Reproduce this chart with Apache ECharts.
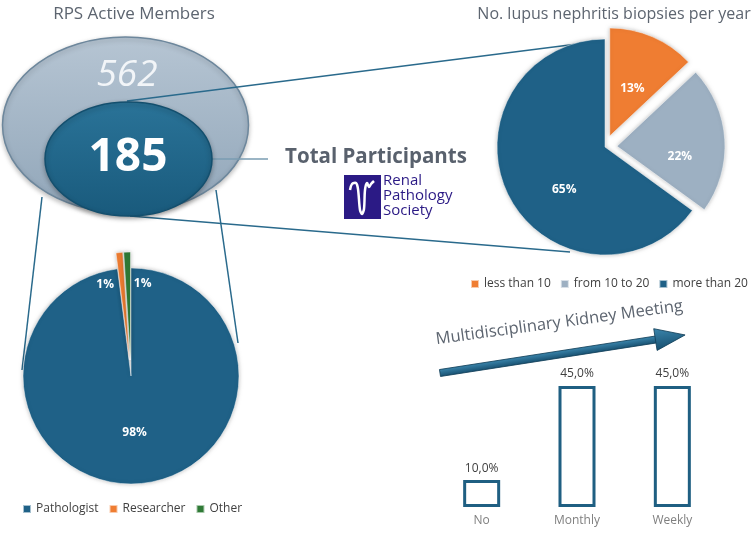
<!DOCTYPE html>
<html>
<head>
<meta charset="utf-8">
<script src="https://cdn.jsdelivr.net/npm/echarts@6/dist/echarts.min.js"></script>
<style>html,body{margin:0;padding:0;background:#fff}#main{width:756px;height:533px}</style>
</head>
<body>
<div id="main"></div>
<script>
// data
var activeMembers = 562;
var totalParticipants = 185;
var roleNames = ['Pathologist', 'Researcher', 'Other'];
var roleValues = [98, 1, 1];
var roleColors = ['#1f6187', '#ef7d32', '#2f7a36'];
var biopsyNames = ['less than 10', 'from 10 to 20', 'more than 20'];
var biopsyValues = [13, 22, 65];
var biopsyColors = ['#ef7d32', '#9db0c2', '#1f6187'];
var meetingCats = ['No', 'Monthly', 'Weekly'];
var meetingValues = [10, 45, 45];

var FONT = 'Open Sans';
var grey = '#5d6570';
var lineCol = '#2a6a8c';

var myChart = echarts.init(document.getElementById('main'));

function lg(a, b) {
    return new echarts.graphic.LinearGradient(0, 0, 0, 1, [{ offset: 0, color: a }, { offset: 1, color: b }]);
}

function pieData(names, values, colors, sel) {
    return names.map(function (n, i) {
        return { name: n, value: values[i], itemStyle: { color: colors[i] }, selected: sel[i] };
    });
}

var pctLabel = function (p) { return Math.round(p.percent) + '%'; };

myChart.setOption({
    animation: false,
    title: [
        { text: 'RPS Active Members', left: 129, top: 1, textAlign: 'center',
          textStyle: { fontFamily: FONT, fontSize: 17, fontWeight: 'normal', color: grey } },
        { text: 'No. lupus nephritis biopsies per year', left: 609, top: 1, textAlign: 'center',
          textStyle: { fontFamily: FONT, fontSize: 16, fontWeight: 'normal', color: grey } }
    ],
    legend: [
        { data: roleNames, left: 22, top: 503, padding: 0, width: 300, icon: 'rect', itemWidth: 8, itemHeight: 8, itemGap: 10,
          textStyle: { fontFamily: FONT, fontSize: 12, color: '#404040' } },
        { data: biopsyNames, left: 470, top: 278, padding: 0, width: 286, icon: 'rect', itemWidth: 8, itemHeight: 8, itemGap: 9,
          textStyle: { fontFamily: FONT, fontSize: 12, color: '#404040' } }
    ],
    grid: { left: 434, right: 36, top: 372.5, bottom: 26 },
    xAxis: {
        type: 'category', data: meetingCats,
        axisLine: { show: false }, axisTick: { show: false },
        axisLabel: { color: '#7f7f7f', fontFamily: FONT, fontSize: 12, margin: 8 }
    },
    yAxis: { type: 'value', min: 0, max: 50, show: false },
    graphic: [
        { type: 'ellipse', z: 0, shape: { cx: 125.5, cy: 125, rx: 123, ry: 88 },
          style: { fill: lg('#b6c5d3', '#91a6b9'), stroke: '#6d879c', lineWidth: 1.5,
                   shadowBlur: 5, shadowColor: 'rgba(0,0,0,0.25)', shadowOffsetY: 2 } },
        { type: 'line', z: 1, shape: { x1: 127, y1: 101, x2: 601, y2: 41 }, style: { stroke: lineCol, lineWidth: 1.5 } },
        { type: 'line', z: 1, shape: { x1: 130, y1: 216, x2: 570, y2: 252 }, style: { stroke: lineCol, lineWidth: 1.5 } },
        { type: 'line', z: 1, shape: { x1: 42, y1: 197, x2: 22, y2: 370 }, style: { stroke: lineCol, lineWidth: 1.5 } },
        { type: 'line', z: 1, shape: { x1: 216, y1: 190, x2: 238, y2: 343 }, style: { stroke: lineCol, lineWidth: 1.5 } },
        { type: 'line', z: 1, shape: { x1: 210, y1: 159, x2: 268, y2: 159 }, style: { stroke: '#7a9cb2', lineWidth: 1.5 } },
        { type: 'ellipse', z: 3, shape: { cx: 128.5, cy: 159, rx: 83.5, ry: 57 },
          style: { fill: lg('#2a7398', '#195a7c'), stroke: '#134f6e', lineWidth: 1.5,
                   shadowBlur: 5, shadowColor: 'rgba(0,0,0,0.3)', shadowOffsetY: 2 } },
        { type: 'text', z: 4, x: 127, y: 75,
          style: { text: String(activeMembers), fill: '#f2f5f8', fontFamily: FONT, fontSize: 37,
                   fontStyle: 'italic', textAlign: 'center', textVerticalAlign: 'middle' } },
        { type: 'text', z: 4, x: 128, y: 158,
          style: { text: String(totalParticipants), fill: '#ffffff', fontFamily: FONT, fontSize: 46,
                   fontWeight: 'bold', textAlign: 'center', textVerticalAlign: 'middle' } },
        { type: 'text', z: 4, x: 376, y: 157,
          style: { text: 'Total Participants', fill: '#59616d', fontFamily: FONT, fontSize: 20.5,
                   fontWeight: 'bold', textAlign: 'center', textVerticalAlign: 'middle' } },
        // Renal Pathology Society logo
        { type: 'rect', z: 4, shape: { x: 344, y: 175, width: 37, height: 44 }, style: { fill: '#2b1a85' } },
        { type: 'polyline', z: 5, shape: { smooth: 0.3, points: [[350, 190], [352, 184], [356, 183], [358, 189],
            [360, 210], [362, 214], [364, 209], [365, 190], [367, 183], [369, 187], [371, 184], [374, 181]] },
          style: { stroke: '#fff', lineWidth: 2.5, fill: null } },
        { type: 'text', z: 4, x: 383, y: 173,
          style: { text: 'Renal\nPathology\nSociety', fill: '#2b1a85', fontFamily: FONT, fontSize: 15,
                   lineHeight: 15, textAlign: 'left', textVerticalAlign: 'top' } },
        // arrow over the bar chart
        { type: 'group', x: 440, y: 373, rotation: 0.154, z: 4, children: [
            { type: 'rect', shape: { x: 0, y: -3.5, width: 222, height: 7 },
              style: { fill: lg('#3b86ad', '#174f6f'), stroke: '#123f59', lineWidth: 0.8 } },
            { type: 'polygon', shape: { points: [[218, -11], [248, 0], [218, 11]] },
              style: { fill: lg('#3b86ad', '#174f6f'), stroke: '#123f59', lineWidth: 0.8 } }
        ] },
        { type: 'text', z: 4, x: 437, y: 348, rotation: 0.135,
          style: { text: 'Multidisciplinary Kidney Meeting', fill: '#5d6570', fontFamily: FONT, fontSize: 16.5,
                   textAlign: 'left', textVerticalAlign: 'bottom' } }
    ],
    series: [
        {
            name: 'Roles', type: 'pie', center: [131, 376], radius: 108,
            startAngle: 90, clockwise: true, selectedMode: 'multiple', selectedOffset: 16,
            avoidLabelOverlap: false,
            itemStyle: { borderColor: 'rgba(255,255,255,0.6)', borderWidth: 0.8,
                         shadowBlur: 4, shadowColor: 'rgba(0,0,0,0.25)' },
            label: { show: true, position: 'inside', formatter: pctLabel, color: '#fff',
                     fontFamily: FONT, fontSize: 12, fontWeight: 'bold' },
            labelLayout: function (p) {
                if (p.dataIndex === 1) return { dx: -19, dy: -19 };
                if (p.dataIndex === 2) return { dx: 14, dy: -19 };
                return {};
            },
            emphasis: { disabled: true },
            data: pieData(roleNames, roleValues, roleColors, [false, true, true])
        },
        {
            name: 'Biopsies', type: 'pie', center: [605, 147], radius: 108,
            startAngle: 90, clockwise: true, selectedMode: 'multiple', selectedOffset: 12,
            avoidLabelOverlap: false,
            itemStyle: { borderColor: 'rgba(255,255,255,0.6)', borderWidth: 0.8,
                         shadowBlur: 4, shadowColor: 'rgba(0,0,0,0.25)' },
            label: { show: true, position: 'inside', formatter: pctLabel, color: '#fff',
                     fontFamily: FONT, fontSize: 12, fontWeight: 'bold' },
            labelLayout: function (p) {
                if (p.dataIndex === 1) return { dx: 6, dy: 14 };
                if (p.dataIndex === 2) return { dx: 10, dy: 17 };
                return { dy: 5 };
            },
            emphasis: { disabled: true },
            data: pieData(biopsyNames, biopsyValues, biopsyColors, [true, true, false])
        },
        {
            name: 'Meeting', type: 'bar', data: meetingValues, barWidth: 37,
            itemStyle: { color: '#fff', borderColor: '#1f5f82', borderWidth: 3 },
            label: { show: true, position: 'top', distance: 6, color: '#404040', fontFamily: FONT, fontSize: 12,
                     formatter: function (p) { return p.value.toFixed(1).replace('.', ',') + '%'; } },
            emphasis: { disabled: true }
        }
    ]
});
</script>
</body>
</html>
